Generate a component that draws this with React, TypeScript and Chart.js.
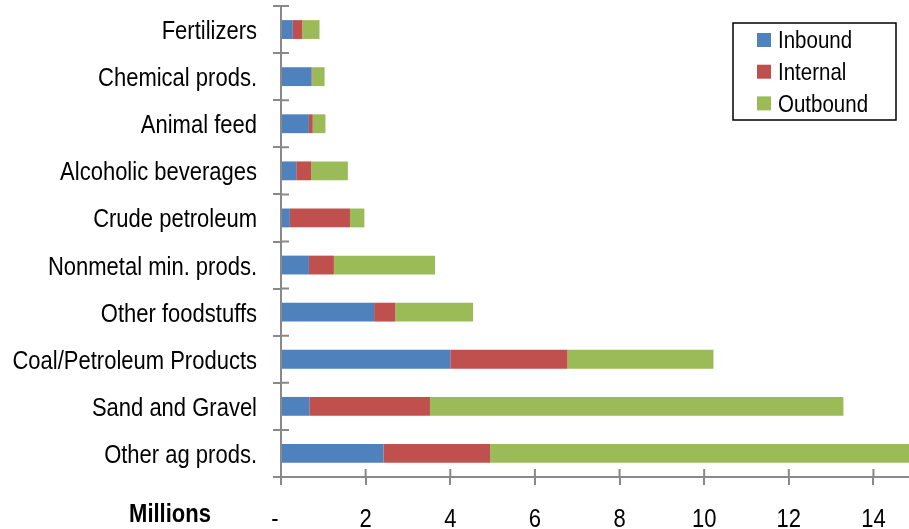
import React, { useEffect, useRef } from "react";
import { Chart, registerables } from "chart.js";

Chart.register(...registerables);

const categories = [
  "Fertilizers",
  "Chemical prods.",
  "Animal feed",
  "Alcoholic beverages",
  "Crude petroleum",
  "Nonmetal min. prods.",
  "Other foodstuffs",
  "Coal/Petroleum Products",
  "Sand and Gravel",
  "Other ag prods.",
];
const inbound = [0.28, 0.72, 0.66, 0.36, 0.21, 0.66, 2.2, 4.0, 0.67, 2.42];
const internal = [0.22, 0.02, 0.09, 0.35, 1.42, 0.59, 0.5, 2.77, 2.85, 2.52];
const outbound = [0.41, 0.29, 0.3, 0.87, 0.34, 2.39, 1.84, 3.45, 9.77, 10.6];
const seriesNames = ["Inbound", "Internal", "Outbound"];
const xTickValues = [0, 2, 4, 6, 8, 10, 12, 14];
const xTickLabels = ["-  ", "2", "4", "6", "8", "10", "12", "14"];
const axisTitle = "Millions";

const FONT = "'Liberation Sans', Arial, sans-serif";
const AXIS_GRAY = "#898989";
const STRETCH = 1.2;

// draws text whose cap-height centre sits at cy, slightly stretched vertically
function drawText(ctx: any, text: string, x: number, cy: number, size: number, align: string, bold = false) {
  ctx.save();
  ctx.font = `${bold ? "bold " : ""}${size}px ${FONT}`;
  ctx.textAlign = align;
  ctx.textBaseline = "alphabetic";
  ctx.fillStyle = "#000000";
  ctx.translate(x, cy);
  ctx.scale(1, STRETCH);
  ctx.fillText(text, 0, 0.358 * size);
  ctx.restore();
}

const innerTicks = {
  id: "innerTicks",
  afterDatasetsDraw(chart: any) {
    const ctx = chart.ctx;
    const xs = chart.scales.x;
    const ys = chart.scales.y;
    ctx.save();
    ctx.strokeStyle = AXIS_GRAY;
    ctx.lineWidth = 2;
    ctx.beginPath();
    for (let i = 0; i <= categories.length; i++) {
      const y = ys.getPixelForValue(i - 0.5);
      ctx.moveTo(xs.left, y);
      ctx.lineTo(xs.left + 8, y);
    }
    xTickValues.forEach((v) => {
      const x = xs.getPixelForValue(v);
      ctx.moveTo(x, ys.bottom);
      ctx.lineTo(x, ys.bottom - 8);
    });
    ctx.stroke();
    ctx.restore();
  },
};

const labelsAndLegend = {
  id: "labelsAndLegend",
  afterDraw(chart: any) {
    const ctx = chart.ctx;
    const xs = chart.scales.x;
    const ys = chart.scales.y;
    // category labels
    ys.ticks.forEach((t: any, i: number) => {
      const label = ys.getLabelForValue(t.value);
      drawText(ctx, label, xs.left - 24, ys.getPixelForTick(i), 22, "right");
    });
    // value labels
    xTickValues.forEach((v, i) => {
      drawText(ctx, xTickLabels[i], xs.getPixelForValue(v), ys.bottom + 41, 22, "center");
    });
    // axis title
    drawText(ctx, axisTitle, 170, 513, 22, "center", true);
    // legend
    ctx.save();
    ctx.fillStyle = "#ffffff";
    ctx.fillRect(733, 23, 163, 97);
    ctx.strokeStyle = "#000000";
    ctx.lineWidth = 1.5;
    ctx.strokeRect(733, 23, 163, 97);
    ctx.restore();
    chart.data.datasets.forEach((ds: any, i: number) => {
      const cy = 40 + i * 31.7;
      ctx.save();
      ctx.fillStyle = ds.backgroundColor;
      ctx.fillRect(757, cy - 7, 14, 14);
      ctx.restore();
      drawText(ctx, ds.label, 778, cy - 0.5, 20.5, "left");
    });
  },
};

const zeroPadding = (scale: any) => {
  scale.paddingTop = 0;
  scale.paddingBottom = 0;
  scale.paddingLeft = 0;
  scale.paddingRight = 0;
};

export default function App() {
  const ref = useRef<HTMLCanvasElement | null>(null);

  useEffect(() => {
    if (!ref.current) return;
    const chart = new Chart(ref.current, {
      type: "bar",
      data: {
        labels: categories,
        datasets: [
          { label: seriesNames[0], data: inbound, backgroundColor: "#4F81BD" },
          { label: seriesNames[1], data: internal, backgroundColor: "#C0504D" },
          { label: seriesNames[2], data: outbound, backgroundColor: "#9BBB59" },
        ],
      },
      options: {
        indexAxis: "y",
        responsive: false,
        animation: false,
        devicePixelRatio: 1,
        layout: { padding: { top: 6, left: 0, right: 0, bottom: 0 } },
        datasets: {
          bar: { barPercentage: 0.4, categoryPercentage: 1, borderWidth: 0 },
        },
        plugins: {
          legend: { display: false },
          tooltip: { enabled: false },
        },
        scales: {
          x: {
            type: "linear",
            stacked: true,
            min: 0,
            max: 14.84,
            afterBuildTicks: (axis: any) => {
              axis.ticks = xTickValues.map((v) => ({ value: v }));
            },
            afterFit: (scale: any) => {
              scale.height = 52;
              zeroPadding(scale);
            },
            grid: {
              drawOnChartArea: false,
              drawTicks: true,
              tickLength: 8,
              color: AXIS_GRAY,
              lineWidth: 2,
            },
            border: { display: true, color: AXIS_GRAY, width: 2 },
            ticks: {
              padding: 19,
              color: "rgba(0,0,0,0)",
              font: { family: FONT, size: 22 },
              maxRotation: 0,
              autoSkip: false,
              callback: (value: any) => {
                const idx = xTickValues.indexOf(Number(value));
                return idx >= 0 ? xTickLabels[idx] : "";
              },
            },
          },
          y: {
            type: "category",
            stacked: true,
            afterFit: (scale: any) => {
              scale.width = 281;
              zeroPadding(scale);
            },
            grid: {
              offset: true,
              drawOnChartArea: false,
              drawTicks: true,
              tickLength: 8,
              color: AXIS_GRAY,
              lineWidth: 2,
            },
            border: { display: true, color: AXIS_GRAY, width: 2 },
            ticks: {
              padding: 16,
              color: "rgba(0,0,0,0)",
              font: { family: FONT, size: 22 },
              autoSkip: false,
            },
          },
        },
      },
      plugins: [innerTicks, labelsAndLegend],
    });
    return () => chart.destroy();
  }, []);

  return (
    <div style={{ position: "absolute", left: 0, top: 0, width: 909, height: 529, background: "#ffffff" }}>
      <canvas ref={ref} width={909} height={529} style={{ display: "block" }} />
    </div>
  );
}
